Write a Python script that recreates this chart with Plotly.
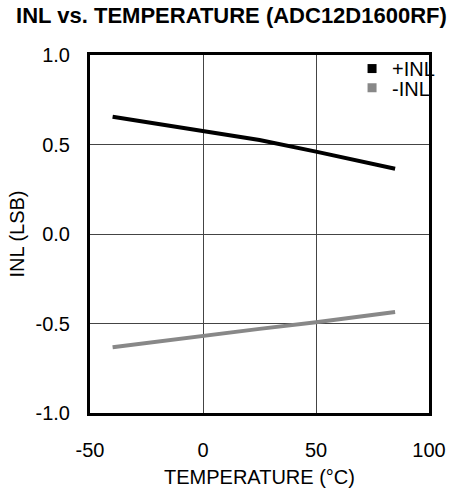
import plotly.graph_objects as go

temps = [-40, 0, 25, 50, 85]
inl_pos = [0.655, 0.575, 0.525, 0.46, 0.365]
inl_neg = [-0.633, -0.568, -0.53, -0.493, -0.436]
x_ticks = [-50, 0, 50, 100]
x_tick_text = ["-50", "0", "50", "100"]
y_ticks = [-1.0, -0.5, 0.0, 0.5, 1.0]
y_tick_text = ["-1.0", "-0.5", "0.0", "0.5", "1.0"]

FONT = "Liberation Sans, Arial, sans-serif"

fig = go.Figure()
fig.add_trace(go.Scatter(x=temps, y=inl_pos, mode="lines",
                         line=dict(color="black", width=4), showlegend=False))
fig.add_trace(go.Scatter(x=temps, y=inl_neg, mode="lines",
                         line=dict(color="#888888", width=4), showlegend=False))
# legend entries (square markers)
fig.add_trace(go.Scatter(x=[None], y=[None], mode="markers", name="+INL",
                         legend="legend",
                         marker=dict(symbol="square", size=9, color="black")))
fig.add_trace(go.Scatter(x=[None], y=[None], mode="markers", name="-INL",
                         legend="legend2",
                         marker=dict(symbol="square", size=9, color="#888888")))

leg_common = dict(xanchor="left", yanchor="top", bgcolor="rgba(0,0,0,0)",
                  font=dict(size=20, family=FONT, color="black"),
                  itemwidth=30, borderwidth=0)

fig.update_layout(
    width=453, height=492,
    margin=dict(l=90, r=24, t=55, b=79, autoexpand=False),
    paper_bgcolor="white", plot_bgcolor="white",
    font=dict(family=FONT, size=20, color="black"),
    title=dict(text="<b>INL vs. TEMPERATURE (ADC12D1600RF)</b>",
               x=0.511, xanchor="center", y=0.9695, yanchor="middle",
               font=dict(size=22, family=FONT)),
    showlegend=True,
    legend=dict(x=0.773, y=1.0166, **leg_common),
    legend2=dict(x=0.773, y=0.963, **leg_common),
)
fig.update_xaxes(range=[-50, 100], tickvals=x_ticks, ticktext=x_tick_text,
                 showgrid=True, gridcolor="#444444", gridwidth=1, zeroline=False,
                 showline=True, linecolor="black", linewidth=3, mirror=True,
                 ticks="", ticklabelstandoff=17, automargin=False,
                 tickfont=dict(size=20),
                 title=dict(text="TEMPERATURE (°C)", font=dict(size=20), standoff=10))
fig.update_yaxes(range=[-1.0, 1.0], tickvals=y_ticks, ticktext=y_tick_text,
                 showgrid=True, gridcolor="#444444", gridwidth=1, zeroline=False,
                 showline=True, linecolor="black", linewidth=3, mirror=True,
                 ticks="", ticklabelstandoff=13, automargin=False,
                 tickfont=dict(size=20),
                 title=dict(text="INL (LSB)", font=dict(size=20), standoff=6))

fig.write_html("out.html",
               config={"displayModeBar": False},
               post_script="document.body.style.margin='0';document.body.style.padding='0';")
